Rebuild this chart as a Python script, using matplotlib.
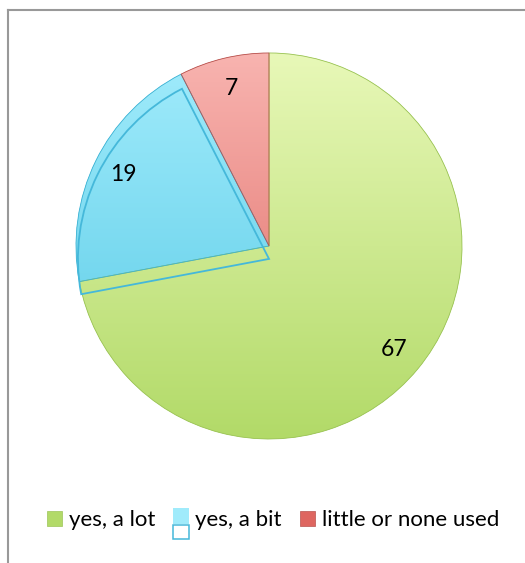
import numpy as np
import matplotlib.pyplot as plt
from matplotlib.patches import Wedge, Patch, Rectangle
from matplotlib.lines import Line2D
from matplotlib.colors import LinearSegmentedColormap

plt.rcParams['font.family'] = ['Lato', 'DejaVu Sans']

# datos
categorias = ['yes, a lot', 'yes, a bit', 'little or none used']
valores = [67, 19, 7]
col_arriba = ['#e8f8b8', '#a2ecfc', '#f8b4b0']
col_abajo = ['#b2da68', '#55c9e5', '#de6660']
col_borde = ['#9cc458', '#3fb3d4', '#b85450']

fig = plt.figure(figsize=(5.25, 5.63), dpi=100)

# marco gris
fig.add_artist(Line2D([8/525, 8/525], [0, 1 - 10/563], color='#999999', lw=1.5))
fig.add_artist(Line2D([8/525, 1], [1 - 10/563, 1 - 10/563], color='#999999', lw=1.5))

ax = fig.add_axes([0.108, 0.186, 0.8088, 0.7542])
wedges, textos, autotextos = ax.pie(
    valores, startangle=90, counterclock=False,
    colors=col_abajo, wedgeprops=dict(edgecolor='none'),
    autopct=lambda p: '%d' % round(p * sum(valores) / 100),
    pctdistance=0.84, textprops=dict(fontsize=16.5, color='black'))
ax.set_xlim(-1.1, 1.1)
ax.set_ylim(-1.1, 1.1)
ax.set_aspect('equal')
ax.axis('off')

# degradado vertical dentro de cada sector
for w, c1, c2, cb in zip(wedges, col_arriba, col_abajo, col_borde):
    cmap = LinearSegmentedColormap.from_list('g', [c2, c1])
    grad = np.linspace(0, 1, 256).reshape(-1, 1)
    im = ax.imshow(grad, cmap=cmap, origin='lower', extent=(-1, 1, -1, 1),
                   aspect='auto', zorder=w.get_zorder())
    im.set_clip_path(w)
    borde = Wedge(w.center, w.r, w.theta1, w.theta2, fill=False,
                  edgecolor=cb, lw=0.6, zorder=w.get_zorder() + 0.1)
    ax.add_patch(borde)

# contorno desplazado del sector azul
azul = wedges[1]
ax.add_patch(Wedge((azul.center[0], azul.center[1] - 0.067), azul.r * 0.99,
                   azul.theta1, azul.theta2, fill=False,
                   edgecolor='#45b8da', lw=1.3, zorder=5))
for t in autotextos:
    t.set_zorder(6)


# marcador de leyenda del azul: relleno arriba y contorno abajo
class MarcaAzul:
    def legend_artist(self, legend, orig_handle, fontsize, handlebox):
        x0, y0 = handlebox.xdescent, handlebox.ydescent
        w, h = handlebox.width, handlebox.height
        r1 = Rectangle((x0, y0 + 0.15 * h), w, h, facecolor='#a0ebfb',
                       edgecolor='none', transform=handlebox.get_transform())
        r2 = Rectangle((x0, y0 - 0.85 * h), w, h * 0.95, facecolor='none',
                       edgecolor='#45b8da', lw=1.1, transform=handlebox.get_transform())
        handlebox.add_artist(r1)
        handlebox.add_artist(r2)
        return r1


handles = [Patch(facecolor=c, edgecolor=cb, lw=0.5) for c, cb in zip(col_abajo, col_borde)]
fig.legend(handles, categorias, loc='center', bbox_to_anchor=(0.52, 0.076),
           ncol=3, frameon=False, fontsize=16, handlelength=0.7, handleheight=0.7,
           handletextpad=0.3, columnspacing=0.8,
           handler_map={handles[1]: MarcaAzul()})

plt.savefig('out.png', dpi=100)
